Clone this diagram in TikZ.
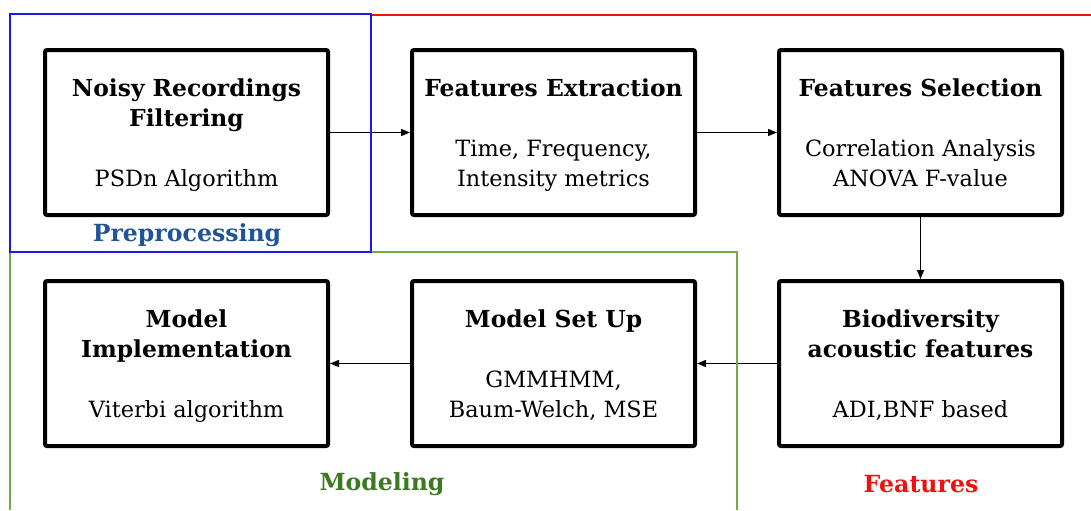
\documentclass[tikz,border=0pt]{standalone}
\usepackage{fontspec}
\setmainfont{DejaVu Serif}
\usepackage{xcolor}
\usetikzlibrary{positioning, arrows.meta}
\definecolor{PrepBlue}{HTML}{1F5597}
\definecolor{FrameBlue}{HTML}{1A1AF0}
\definecolor{ModGreen}{HTML}{3B7A1F}
\definecolor{FrameGreen}{HTML}{70AD47}
\definecolor{FeatRed}{HTML}{F01010}
\newcommand{\hd}[1]{{\fontsize{11.7}{15}\selectfont\bfseries #1}}
\tikzset{
  stage/.style={draw, line width=2pt, rounded corners=1pt, align=center,
                minimum width=141.5pt, minimum height=82.5pt,
                font=\fontsize{11.2}{15}\selectfont, text depth=-1.5pt},
  arr/.style={-{Triangle[length=4.5pt, width=3.5pt]}, line width=0.7pt},
  grp/.style={font=\fontsize{11.8}{14}\selectfont\bfseries},
  zone/.style={line width=0.8pt}
}

\begin{document}
\begin{tikzpicture}[x=0.5pt, y=-0.5pt, node distance=31pt and 40pt]
  \useasboundingbox (0,0) rectangle (1091,510);

  % ----- Top row -----
  \node[stage] (filt) at (186.5,132.5)
    {\hd{Noisy Recordings}\\\hd{Filtering}\\[15pt]PSDn Algorithm};
  \node[stage, right=of filt] (extr)
    {\hd{Features Extraction}\\[15pt]Time, Frequency,\\Intensity metrics};
  \node[stage, right=of extr] (sel)
    {\hd{Features Selection}\\[15pt]Correlation Analysis\\ANOVA F-value};

  % ----- Bottom row -----
  \node[stage, below=of sel] (bio)
    {\hd{Biodiversity}\\\hd{acoustic features}\\[15pt]ADI,BNF based};
  \node[stage, left=of bio] (setup)
    {\hd{Model Set Up}\\[15pt]GMMHMM,\\Baum-Welch, MSE};
  \node[stage, left=of setup] (impl)
    {\hd{Model}\\\hd{Implementation}\\[15pt]Viterbi algorithm};

  % ----- Arrows -----
  \draw[arr] (filt.east) -- (extr.west);
  \draw[arr] (extr.east) -- (sel.west);
  \draw[arr] (sel.south) -- (bio.north);
  \draw[arr] (bio.west) -- (setup.east);
  \draw[arr] (setup.west) -- (impl.east);

  % ----- Group frames -----
  \draw[zone, draw=FeatRed] (371,15) -- (1091,15);
  \draw[zone, draw=FrameGreen] (10,510) -- (10,252) -- (737,252) -- (737,510);
  \draw[zone, draw=FrameBlue] (10,14) rectangle (371,252);

  % ----- Group labels -----
  \node[grp, text=PrepBlue] (prep) at (187,235) {Preprocessing};
  \node[grp, text=ModGreen] (model) at (382,484) {Modeling};
  \node[grp, text=FeatRed] (feat) at (921,484) {Features};
\end{tikzpicture}
\end{document}
